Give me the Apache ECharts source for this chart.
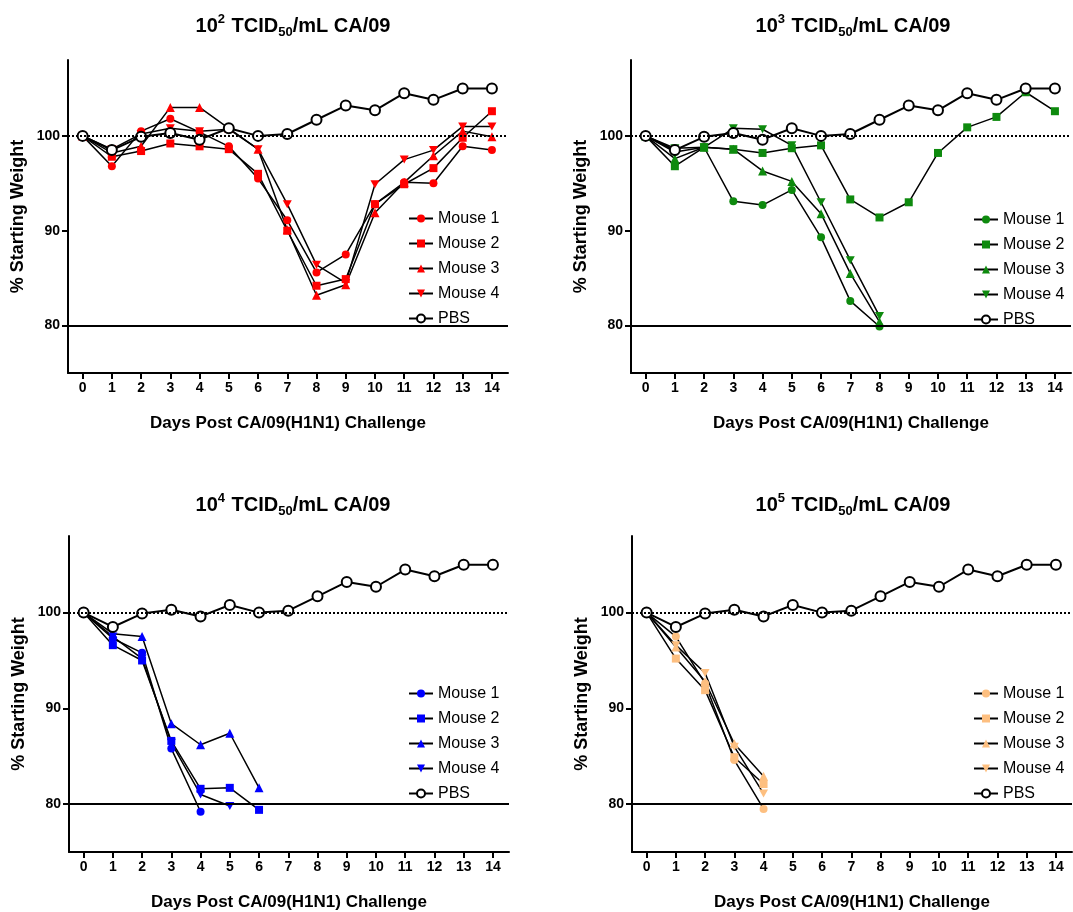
<!DOCTYPE html>
<html>
<head>
<meta charset="utf-8">
<script src="https://cdn.jsdelivr.net/npm/echarts@6/dist/echarts.min.js"></script>
<style>
  html, body { margin: 0; padding: 0; background: #fff; }
  #chart { width: 1073px; height: 912px; }
</style>
</head>
<body>
<div id="chart"></div>
<script>
  const days = [0, 1, 2, 3, 4, 5, 6, 7, 8, 9, 10, 11, 12, 13, 14]
  const yTicks = [80, 90, 100]
  const mouseNames = ['Mouse 1', 'Mouse 2', 'Mouse 3', 'Mouse 4']
  const doseExp = ['2', '3', '4', '5']

  // PBS control, same in every panel
  const pbsWeight = [100, 98.5, 99.9, 100.3, 99.6, 100.8, 100.0, 100.2, 101.7, 103.2, 102.7, 104.5, 103.8, 105.0, 105.0]

  // % starting weight per mouse, one array per dose
  const dose102 = [
    [100, 96.8, 100.5, 101.8, 100.4, 98.9, 95.5, 91.1, 85.6, 87.5, 92.8, 95.1, 95.0, 98.9, 98.5],
    [100, 97.8, 98.4, 99.2, 98.9, 98.6, 96.0, 90.0, 84.2, 84.9, 92.8, 94.9, 96.6, 99.8, 102.6],
    [100, 98.2, 98.9, 103.0, 103.0, 100.8, 98.6, 90.1, 83.2, 84.3, 91.9, 95.1, 97.9, 100.5, 99.9],
    [100, 98.6, 100.2, 100.8, 100.5, 100.7, 98.6, 92.8, 86.4, 84.5, 94.9, 97.5, 98.5, 101.0, 101.0],
  ]
  const dose103 = [
    [100, 98.3, 98.8, 93.1, 92.7, 94.3, 89.3, 82.6, 79.9],
    [100, 96.8, 98.8, 98.6, 98.2, 98.7, 99.0, 93.3, 91.4, 93.0, 98.2, 100.9, 102.0, 104.6, 102.6],
    [100, 97.6, 98.8, 98.6, 96.3, 95.2, 91.8, 85.5, 80.4],
    [100, 98.7, 98.8, 100.8, 100.7, 99.0, 93.0, 86.9, 81.0],
  ]
  const dose104 = [
    [100, 97.3, 95.8, 85.8, 79.2],
    [100, 96.6, 95.0, 86.6, 81.6, 81.7, 79.4],
    [100, 97.8, 97.5, 88.4, 86.2, 87.4, 81.7],
    [100, 97.5, 95.2, 86.4, 81.0, 79.8],
  ]
  const dose105 = [
    [100, 97.5, 92.6, 84.6, 79.5],
    [100, 95.2, 91.9, 84.9, 82.1],
    [100, 96.4, 92.8, 86.3, 82.9],
    [100, 96.6, 93.7, 86.0, 81.1],
  ]

  const panelData = [dose102, dose103, dose104, dose105]
  const panelColors = ['#ff0000', '#0e8a0e', '#0000ff', '#fdbf80']
  const symbols = ['circle', 'rect', 'triangle', 'path://M0,0L10,0L5,9Z']
  const symbolSizes = [8, 8, 9, [9, 8]]

  const grids = [
    { left: 68, top: 60, width: 440, height: 313 },
    { left: 631, top: 60, width: 440, height: 313 },
    { left: 69, top: 536, width: 440, height: 316 },
    { left: 632, top: 536, width: 440, height: 316 },
  ]
  const titlePos = [[288, 8], [848, 8], [288, 487], [848, 487]]
  const legendPos = [[403, 205], [968, 206], [403, 680], [968, 680]]

  const font = 'Arial, "Liberation Sans", sans-serif'

  const toPoints = (vals) => vals.map((v, i) => [days[i], v])

  const series = []
  panelData.forEach((mice, p) => {
    mice.forEach((vals, m) => {
      series.push({
        name: p + '|' + mouseNames[m],
        type: 'line',
        xAxisIndex: p,
        yAxisIndex: p,
        data: toPoints(vals),
        symbol: symbols[m],
        symbolSize: symbolSizes[m],
        showAllSymbol: true,
        itemStyle: { color: panelColors[p] },
        lineStyle: { color: '#000', width: 1.5 },
        z: 3,
      })
    })
    series.push({
      name: p + '|PBS',
      type: 'line',
      xAxisIndex: p,
      yAxisIndex: p,
      data: toPoints(pbsWeight),
      symbol: 'emptyCircle',
      symbolSize: 10,
      itemStyle: { color: '#000', borderWidth: 2 },
      lineStyle: { color: '#000', width: 2 },
      z: 4,
      markLine: {
        silent: true,
        symbol: 'none',
        label: { show: false },
        data: [
          { yAxis: 100, lineStyle: { type: 'dotted', color: '#000', width: 2 } },
          { yAxis: 80, lineStyle: { type: 'solid', color: '#000', width: 2 } },
        ],
      },
    })
  })

  const chart = echarts.init(document.getElementById('chart'))
  chart.setOption({
    animation: false,
    textStyle: { fontFamily: font },
    title: doseExp.map((e, p) => ({
      text: '10{sup|' + e + '} TCID{sub|50}/mL CA/09',
      left: titlePos[p][0],
      top: titlePos[p][1],
      textAlign: 'center',
      textStyle: {
        fontFamily: font,
        fontSize: 20,
        fontWeight: 'bold',
        color: '#000',
        lineHeight: 26,
        rich: {
          sup: { fontSize: 13, fontWeight: 'bold', fontFamily: font, lineHeight: 13, verticalAlign: 'top', padding: [0, 1, 0, 0] },
          sub: { fontSize: 13, fontWeight: 'bold', fontFamily: font, lineHeight: 13, verticalAlign: 'bottom' },
        },
      },
    })),
    legend: panelData.map((mice, p) => ({
      orient: 'vertical',
      left: legendPos[p][0],
      top: legendPos[p][1],
      itemWidth: 24,
      itemHeight: 10,
      itemGap: 8,
      data: mouseNames.concat('PBS').map((n) => p + '|' + n),
      formatter: (name) => name.split('|')[1],
      textStyle: { fontSize: 16, lineHeight: 17, color: '#000', fontFamily: font },
    })),
    grid: grids,
    xAxis: grids.map((g, p) => ({
      type: 'value',
      gridIndex: p,
      min: -0.5,
      max: 14.55,
      name: 'Days Post CA/09(H1N1) Challenge',
      nameLocation: 'middle',
      nameGap: 42,
      nameTextStyle: { fontSize: 17, fontWeight: 'bold', color: '#000', fontFamily: font },
      axisLine: { onZero: false, lineStyle: { color: '#000', width: 2 } },
      axisTick: { show: true, length: 6, lineStyle: { color: '#000', width: 2 }, customValues: days },
      axisLabel: { customValues: days, fontSize: 14, fontWeight: 'bold', color: '#000', margin: 8 },
      splitLine: { show: false },
    })),
    yAxis: grids.map((g, p) => ({
      type: 'value',
      gridIndex: p,
      min: 75,
      max: 108,
      name: '% Starting Weight',
      nameLocation: 'middle',
      nameGap: 41,
      nameTextStyle: { fontSize: 18, fontWeight: 'bold', color: '#000', fontFamily: font },
      axisLine: { show: true, onZero: false, lineStyle: { color: '#000', width: 2 } },
      axisTick: { show: true, length: 6, lineStyle: { color: '#000', width: 2 }, customValues: yTicks },
      axisLabel: { customValues: yTicks, fontSize: 14, fontWeight: 'bold', color: '#000', margin: 8 },
      splitLine: { show: false },
    })),
    series: series,
  })
</script>
</body>
</html>
